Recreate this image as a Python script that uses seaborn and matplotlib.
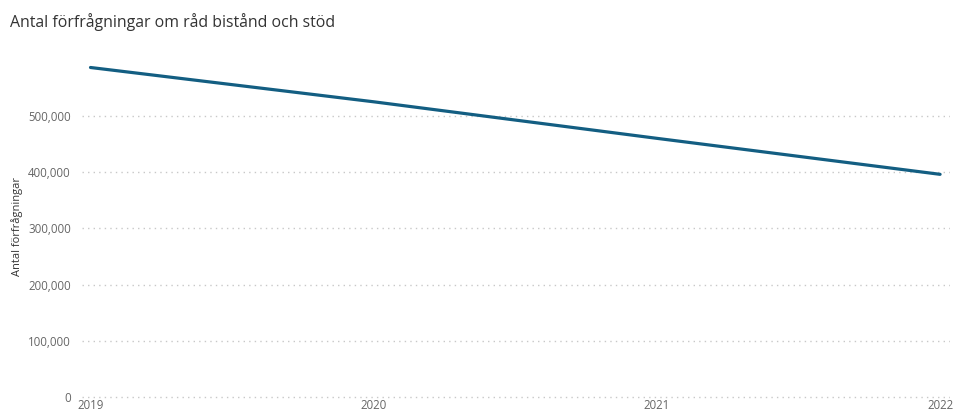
import matplotlib
matplotlib.use("Agg")
import matplotlib.pyplot as plt
import seaborn as sns
import pandas as pd
from matplotlib.ticker import FuncFormatter

years = [2019, 2020, 2021, 2022]
requests = [586000, 525000, 460000, 396000]

df = pd.DataFrame({"År": years, "Antal förfrågningar": requests})

sns.set_theme(style="white")
plt.rcParams['font.family'] = ['Open Sans', 'DejaVu Sans']

fig = plt.figure(figsize=(9.54, 4.13), dpi=100)
ax = fig.add_axes([82/954, 14/413, (950-82)/954, (399-54)/413])

sns.lineplot(data=df, x="År", y="Antal förfrågningar", ax=ax,
             color="#135e82", linewidth=2.3)

ax.set_xlim(2018.97, 2022.035)
ax.set_ylim(-3600, 610000)
ax.set_yticks([0, 100000, 200000, 300000, 400000, 500000])
ax.yaxis.set_major_formatter(FuncFormatter(lambda v, p: f"{int(v):,}"))
ax.set_xticks(years)
ax.set_xticklabels([str(y) for y in years])
ax.grid(axis="y", linestyle=(0, (1, 3)), color="#c8c8c8", linewidth=1)
ax.grid(axis="x", visible=False)
for s in ax.spines.values():
    s.set_visible(False)
ax.tick_params(axis="both", length=0, labelsize=8.3, labelcolor="#666666")
ax.tick_params(axis="y", pad=8)
ax.tick_params(axis="x", pad=0)
ax.set_xlabel("")
ax.set_ylabel("Antal förfrågningar", fontsize=8, color="#333333", labelpad=4)

fig.text(10/954, 1 - 22/413, "Antal förfrågningar om råd bistånd och stöd",
         fontsize=11.4, color="#333333", va="center", ha="left")

fig.savefig("out.png", dpi=100)
